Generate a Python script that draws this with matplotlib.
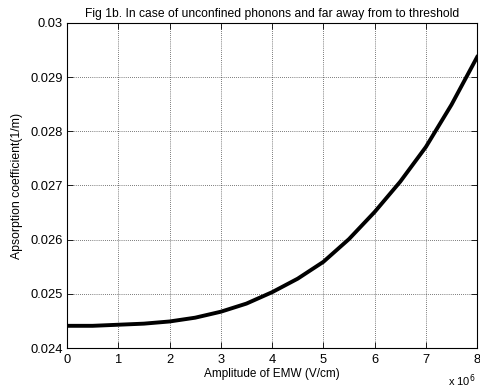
import matplotlib
matplotlib.use('Agg')
import matplotlib.pyplot as plt
from matplotlib.ticker import FuncFormatter

# amplitude of EMW in units of 1e6 V/cm
amplitude = [0, 0.5, 1, 1.5, 2, 2.5, 3, 3.5, 4, 4.5, 5, 5.5, 6, 6.5, 7, 7.5, 8]
# absorption coefficient (1/m)
absorption = [0.02441, 0.02441, 0.02443, 0.02445, 0.02449, 0.02456, 0.02467,
              0.02482, 0.02503, 0.02528, 0.02559, 0.02601, 0.02651, 0.02707,
              0.02771, 0.02849, 0.02937]

xticks = [0, 1, 2, 3, 4, 5, 6, 7, 8]
yticks = [0.024, 0.025, 0.026, 0.027, 0.028, 0.029, 0.03]

plt.rcParams['font.family'] = ['Liberation Sans', 'DejaVu Sans']

fig = plt.figure(figsize=(4.8, 3.88), dpi=100)
ax = fig.add_axes([0.1396, 0.103, 0.8544, 0.838])

ax.plot(amplitude, absorption, color='black', lw=2.8, solid_joinstyle='round')

ax.set_xlim(0, 8)
ax.set_ylim(0.024, 0.03)
ax.set_xticks(xticks)
ax.set_yticks(yticks)
ax.yaxis.set_major_formatter(FuncFormatter(lambda v, p: '%g' % v))

ax.grid(True, color='black', linestyle=(0, (1, 2)), linewidth=0.5)
ax.tick_params(direction='in', top=True, right=True, length=4, width=0.6,
               labelsize=9.3, colors='black')
ax.tick_params(axis='x', pad=4)
ax.tick_params(axis='y', pad=3)
for s in ax.spines.values():
    s.set_linewidth(0.8)

ax.set_title('Fig 1b. In case of unconfined phonons and far away from to threshold',
             fontsize=8.7, pad=4)
ax.set_xlabel('Amplitude of EMW (V/cm)', fontsize=8.5, labelpad=2)
ax.set_ylabel('Apsorption coefficient(1/m)', fontsize=8.8, labelpad=5)
ax.text(0.995, -0.075, r'x 10$^{6}$', transform=ax.transAxes, fontsize=8,
        ha='right', va='top')

fig.savefig('out.png', dpi=100)
